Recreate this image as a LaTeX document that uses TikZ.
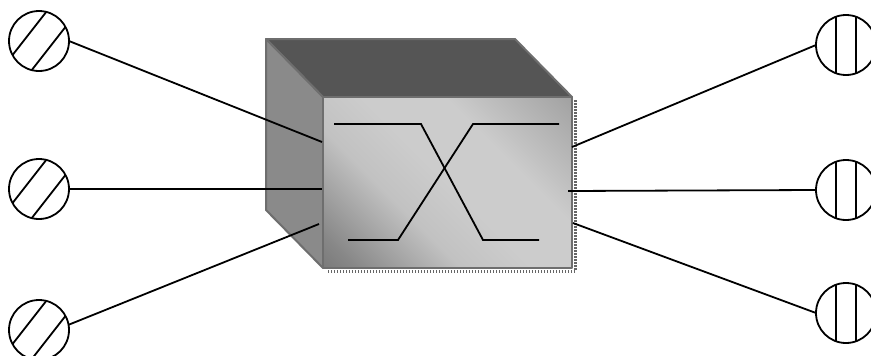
\documentclass[tikz,border=0pt]{standalone}
\usepackage{xcolor}
\usetikzlibrary{calc,positioning}

\definecolor{topgray}{HTML}{555555}
\definecolor{sidegray}{HTML}{8A8A8A}
\definecolor{rimgray}{HTML}{6E6E6E}
\pgfdeclarehorizontalshading{faceshade}{100bp}{color(0bp)=(black!66); color(20bp)=(black!47); color(38bp)=(black!24); color(50bp)=(black!20); color(64bp)=(black!20); color(82bp)=(black!34); color(100bp)=(black!50)}

\begin{document}
\begin{tikzpicture}[x=1pt, y=-1pt,
    port/.style={draw, circle, line width=1.8pt, minimum size=60pt, inner sep=0pt, outer sep=0pt},
    wire/.style={line width=1.8pt},
    rim/.style={draw=rimgray, line width=2pt, line join=round}]
    \useasboundingbox (0,0) rectangle (871,356);

    % Switch box: top and left faces
    \filldraw[rim, fill=topgray] (266,39) -- (515,39) -- (572,97) -- (323,97) -- cycle;
    \filldraw[rim, fill=sidegray] (266,39) -- (323,97) -- (323,268) -- (266,210) -- cycle;

    % Dotted drop shadow
    \draw[black!60, line width=3pt, dash pattern=on 1.5pt off 1.5pt] (575,100) -- (575,271) -- (326,271);

    % Front face
    \shade[shading=faceshade, shading angle=45] (323,97) rectangle (572,268);
    \draw[rim] (323,97) rectangle (572,268);

    % Crossing paths on the front
    \draw[wire] (334,124) -- (421,124) -- (483,240) -- (539,240);
    \draw[wire] (348,240) -- (398,240) -- (473,124) -- (559,124);

    % Attach points on the box
    \coordinate (a1) at (322,142);
    \coordinate (a2) at (322,189);
    \coordinate (a3) at (319,224);
    \coordinate (b1) at (572,147);
    \coordinate (b2) at (568,191);
    \coordinate (b3) at (573,223);

    % Left ports (diagonal hatching)
    \foreach \n/\y in {1/41, 2/189, 3/330} {
        \node[port] (in\n) at (39,\y) {};
        \draw[wire] (in\n.28) -- (in\n.-104);
        \draw[wire] (in\n.208) -- (in\n.76);
    }

    % Right ports (vertical hatching)
    \foreach \n/\y in {1/45, 2/190, 3/313} {
        \node[port] (out\n) at (846,\y) {};
        \draw[wire] (out\n.70) -- (out\n.-70);
        \draw[wire] (out\n.110) -- (out\n.250);
    }

    % Links
    \draw[wire] (in1.east) -- (a1);
    \draw[wire] (in2.east) -- (a2);
    \draw[wire] (in3.10) -- (a3);
    \draw[wire] (out1.west) -- (b1);
    \draw[wire] (out2.west) -- (b2);
    \draw[wire] (out3.west) -- (b3);

\end{tikzpicture}
\end{document}
